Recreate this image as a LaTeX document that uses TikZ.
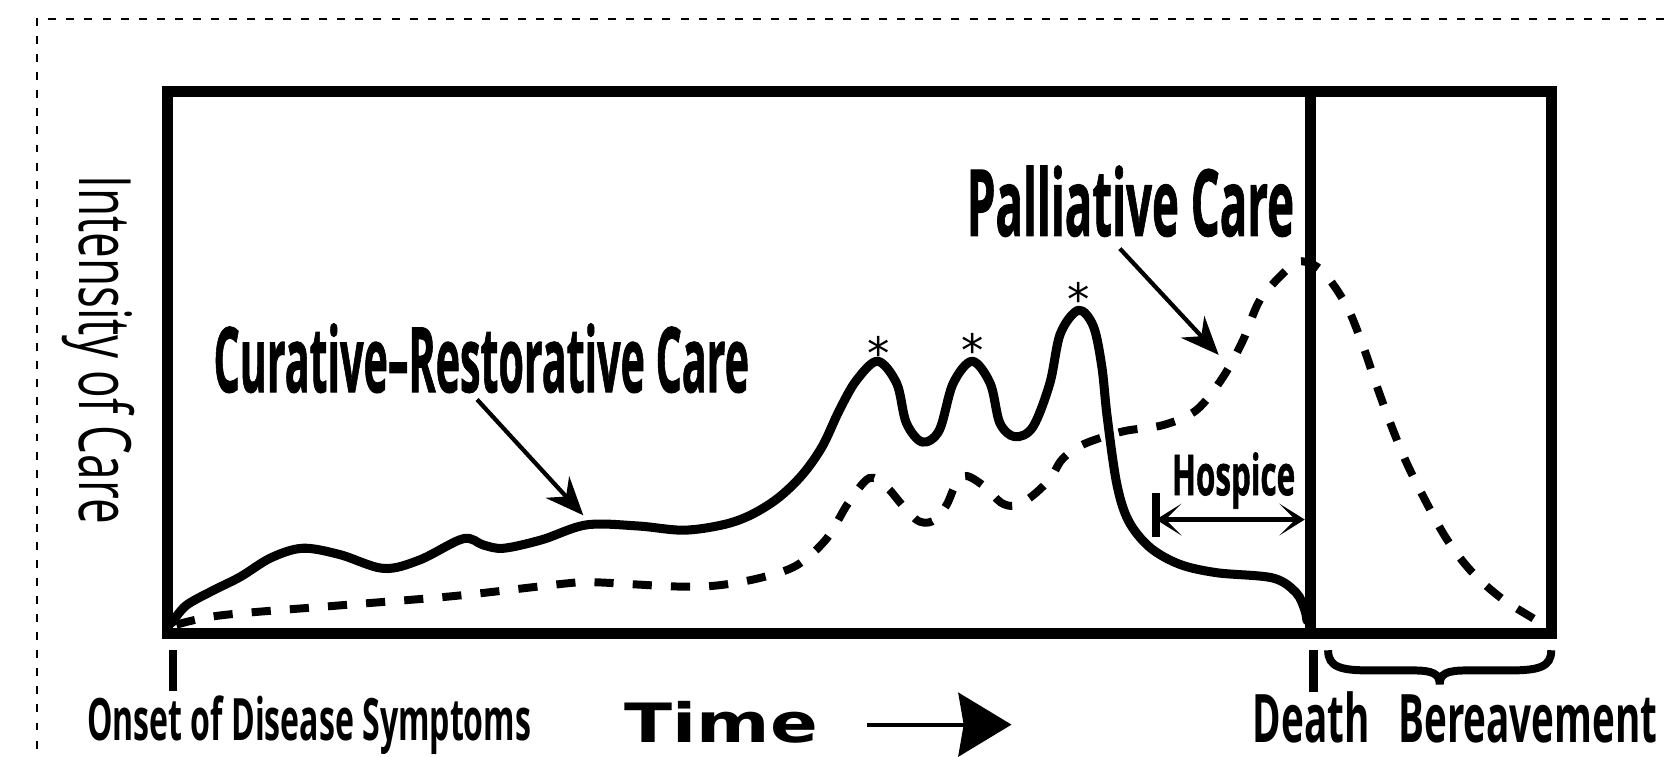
\documentclass[tikz,border=0pt]{standalone}
\usepackage{fontspec}
\usepackage{graphicx}
\setmainfont{Open Sans}
\newfontfamily\heavy[BoldFeatures={FakeBold=1.3}]{Open Sans}
\newfontfamily\dvs{DejaVu Sans}
\usetikzlibrary{arrows.meta}
\newcommand\fitw[2]{\resizebox{#1}{\height}{#2}}
\newcommand\fsz[1]{\fontsize{#1}{#1}\selectfont}
\begin{document}
\begin{tikzpicture}[x=1pt,y=-1pt,
  lbl/.style={inner sep=0pt, outer sep=0pt, anchor=base west},
  frame/.style={line width=10.5pt},
  care/.style={line width=8.5pt, line cap=round, line join=round},
  pall/.style={line width=7.5pt, dash pattern=on 18pt off 18pt},
  pointer/.style={line width=4pt, -{Stealth[length=36pt,width=30pt,inset=12pt]}},
  hosptip/.style={line width=4pt, {Stealth[length=24pt,width=30pt,inset=15pt]}-{Stealth[length=24pt,width=30pt,inset=15pt]}},
  tickmark/.style={line width=8pt},
  star/.style={inner sep=0pt, anchor=base}]

\useasboundingbox (0,0) rectangle (1568,712);
\begin{scope}
  \clip (0,0) rectangle (1568,712);
  \draw[line width=1.6pt, dash pattern=on 7.5pt off 9.5pt] (1600,18) -- (35,18) -- (35,760);
\end{scope}

% frame
\draw[frame] (158,86.5) rectangle (1460,596);
\draw[frame] (1233,86.5) -- (1233,596);

% curative-restorative care (solid)
\draw[care] plot[smooth, tension=0.55] coordinates {
 (162,586) (175,570) (200,556) (226,543) (255,525) (285,516) (320,522)
 (361,535) (395,527) (436,507) (455,513) (474,516) (510,508) (552,494)
 (600,495) (643,499) (680,494) (706,485) (732,469) (755,447) (774,420)
 (790,386) (806,358) (826,340) (844,361) (853,398) (868,416) (884,405) (897,361)
 (915,340) (932,361) (941,398) (955,411) (972,402) (988,361) (998,314)
 (1015,292) (1029,307) (1037,345) (1042,392) (1051,455) (1062,490)
 (1082,515) (1110,531) (1145,539) (1198,544) (1220,558) (1228,574) (1230,584)};

% palliative care (dashed)
\draw[pall] plot[smooth, tension=0.55] coordinates {
 (166,588) (209,579) (317,570) (427,561) (534,549) (560,548) (637,552)
 (675,551) (715,544) (750,532) (778,507) (798,474) (818,450) (834,458)
 (848,474) (861,488) (870,492) (880,489) (891,475) (900,455) (910,448)
 (928,459) (942,473) (955,476) (970,468) (988,451) (1000,432) (1020,418)
 (1057,406) (1095,400) (1126,386) (1151,355) (1170,320) (1186,282)
 (1211,254) (1222,246) (1236,249) (1249,260) (1268,289) (1283,326)
 (1296,364) (1310,402) (1324,436) (1343,474) (1362,508) (1385,538)
 (1413,563) (1443,582) (1456,590)};

% asterisks
\node[star] (s1) at (827,348) {\dvs\fsz{42}*};
\node[star] (s2) at (915,345) {\dvs\fsz{42}*};
\node[star] (s3) at (1015,297) {\dvs\fsz{42}*};

% labels
\node[lbl] (pal) at (910,222) {\fitw{308pt}{\heavy\bfseries\fsz{87}Palliative Care}};
\node[lbl] (cur) at (201,369) {\fitw{504pt}{\heavy\bfseries\fsz{85}Curative–Restorative Care}};
\node[lbl] (hos) at (1103,466) {\fitw{116pt}{\heavy\bfseries\fsz{53}Hospice}};
\node[lbl] (ons) at (82,697) {\fitw{418pt}{\bfseries\fsz{55}Onset of Disease Symptoms}};
\node[lbl] (dea) at (1179,699) {\fitw{110pt}{\bfseries\fsz{63}Death}};
\node[lbl] (ber) at (1316,699) {\fitw{244pt}{\bfseries\fsz{63}Bereavement}};
\node[lbl] (tim) at (588,699) {\fitw{182pt}{\dvs\bfseries\fsz{51}Time}};
\node[lbl, rotate=-90] (int) at (75,165) {\fitw{328pt}{\fsz{68}Intensity of Care}};

% pointers
\coordinate (curS) at (449,376);
\coordinate (curE) at (549,485);
\coordinate (palS) at (1054,234);
\coordinate (palE) at (1147,334);
\draw[pointer] (curS) -- (curE);
\draw[pointer] (palS) -- (palE);

% hospice span
\coordinate (hL) at (1088,489);
\coordinate (hR) at (1228,489);
\draw[tickmark] (1088,464) -- (1088,505);
\draw[hosptip] (hL) -- (hR);

% time arrow
\coordinate (tS) at (816,682);
\coordinate (tE) at (952,682);
\draw[line width=4pt, -{Stealth[length=50pt,width=60pt,inset=5pt]}] (tS) -- (tE);

% ticks
\draw[tickmark] (163,612) -- (163,650);
\draw[tickmark] (1236,612) -- (1236,651);

% bereavement brace
\draw[line width=7.5pt, line cap=butt]
  (1250,612) .. controls (1250,628) and (1262,631) .. (1290,631)
  -- (1330,631) .. controls (1348,631) and (1355,634) .. (1355,644)
  .. controls (1355,634) and (1362,631) .. (1380,631)
  -- (1420,631) .. controls (1448,631) and (1460,628) .. (1460,612);
\end{tikzpicture}
\end{document}
